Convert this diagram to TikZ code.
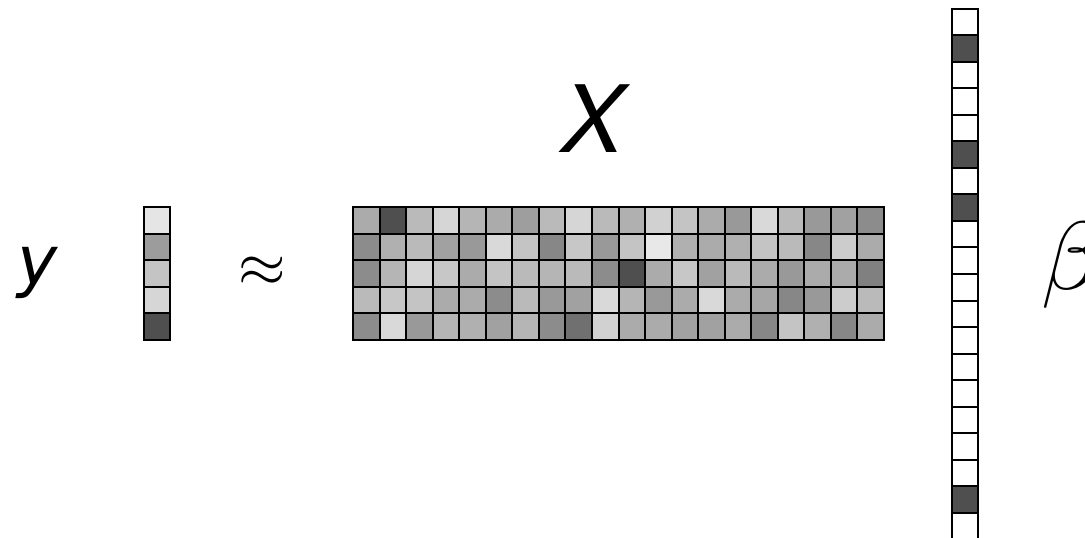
\documentclass[tikz,border=0pt]{standalone}
\usepackage{fontspec}
\newfontfamily\herosfont{TeX Gyre Heros}
\newfontfamily\dejafont{DejaVu Sans}
\begin{document}
\begin{tikzpicture}[x=1pt,y=-1pt,
  cellbox/.style={draw=black,line width=2pt},
  sanslabel/.style={inner sep=0pt,font=\herosfont\itshape},
  mathlabel/.style={inner sep=0pt}]
\useasboundingbox (0,0) rectangle (1085,538);
\clip (0,0) rectangle (1085,538);
\def\cs{26.55}
% matrix X
\foreach \r/\vals in {
  0/{67,31,73,84,71,67,62,73,84,73,69,82,77,67,60,85,73,60,63,55},
  1/{55,69,73,63,60,85,77,53,78,60,77,91,69,67,69,77,73,53,80,67},
  2/{55,71,84,78,67,77,73,71,73,55,31,67,78,63,73,67,60,67,67,50},
  3/{73,78,77,67,67,55,73,60,63,85,71,60,67,85,67,65,53,60,80,73},
  4/{55,85,60,71,69,63,71,55,44,82,67,67,63,63,67,53,77,69,53,67}}{
  \foreach \v [count=\c from 0] in \vals {
    \draw[cellbox,fill=white!\v!black] ({353+\c*\cs},{207+\r*\cs}) rectangle ++(\cs,\cs);
  }
}
% vector y
\foreach \v [count=\r from 0] in {90,61,77,84,31}{
  \draw[cellbox,fill=white!\v!black] (143.5,{207+\r*\cs}) rectangle ++(\cs,\cs);
}
% vector beta
\foreach \v [count=\r from 0] in {100,31,100,100,100,31,100,31,100,100,100,100,100,100,100,100,100,100,31,100}{
  \draw[cellbox,fill=white!\v!black] (951.7,{8.5+\r*\cs}) rectangle ++(\cs,\cs);
}
% labels
\node[sanslabel,anchor=base,font=\dejafont\itshape\fontsize{68}{76}\selectfont] (ylab) at (38,284) {y};
\node[sanslabel,anchor=base,font=\herosfont\itshape\fontsize{93}{100}\selectfont] (xlab) at (593,152) {X};
\node[mathlabel,anchor=center,scale=6.1] (approx) at (262,272) {$\approx$};
\node[mathlabel,anchor=base west,scale=9.7] (betalab) at (1040,289) {$\beta$};
\end{tikzpicture}
\end{document}
